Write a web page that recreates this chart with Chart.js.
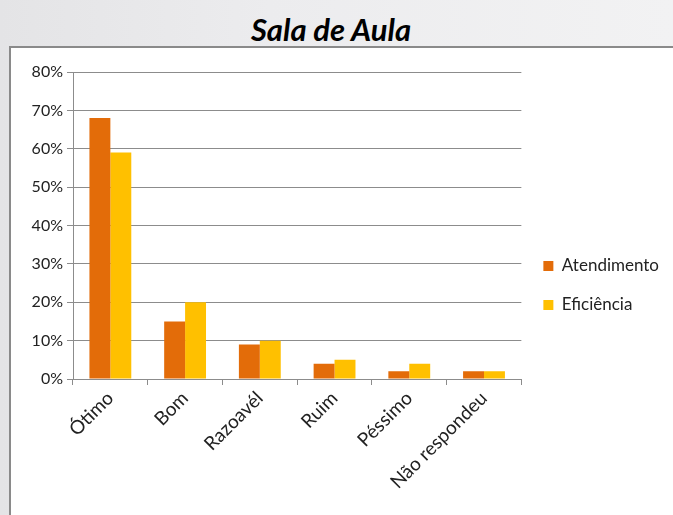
<!DOCTYPE html>
<html>
<head>
<meta charset="utf-8">
<script src="https://cdn.jsdelivr.net/npm/chart.js@4"></script>
<style>
    html, body { margin: 0; padding: 0; }
    body {
        width: 673px; height: 515px; overflow: hidden; position: relative;
        background: linear-gradient(90deg, #e4e4e6 0%, #ececee 40%, #f2f2f3 100%);
        font-family: Lato, "Open Sans", sans-serif;
    }
    #title {
        position: absolute; left: 0; top: 10px; width: 662px; text-align: center;
        font: italic bold 31px Lato, sans-serif; color: #000;
    }
    #box {
        position: absolute; left: 9px; top: 46px; width: 664px; height: 469px;
        background: #fff; border-left: 2px solid #8a8a8a; border-top: 2px solid #8a8a8a;
    }
</style>
</head>
<body>
<div id="title">Sala de Aula</div>
<div id="box"><canvas id="chart" width="662" height="467"></canvas></div>
<script>
// data
const categories = ['Ótimo', 'Bom', 'Razoavél', 'Ruim', 'Péssimo', 'Não respondeu'];
const atendimento = [68, 15, 9, 4, 2, 2];
const eficiencia = [59, 20, 10, 5, 4, 2];
const yTicks = [0, 10, 20, 30, 40, 50, 60, 70, 80];

const gridColor = '#8c8c8c';

const ctx = document.getElementById('chart');
const myChart = new Chart(ctx, {
    type: 'bar',
    data: {
        labels: categories,
        datasets: [{
            label: 'Atendimento',
            data: atendimento,
            backgroundColor: '#E36C09'
        }, {
            label: 'Eficiência',
            data: eficiencia,
            backgroundColor: '#FFC000'
        }]
    },
    options: {
        responsive: false,
        animation: false,
        categoryPercentage: 0.56,
        barPercentage: 1,
        layout: {
            // extra bottom padding lifts the legend a little
            padding: { top: 24, left: 4, right: 4, bottom: 16 }
        },
        plugins: {
            tooltip: { enabled: false },
            legend: {
                position: 'right',
                labels: {
                    boxWidth: 10,
                    boxHeight: 10,
                    padding: 22,
                    color: '#222',
                    font: { family: 'Lato', size: 17 }
                }
            }
        },
        scales: {
            x: {
                afterFit: function (scale) { scale.height = 120; },
                grid: {
                    offset: true,
                    drawOnChartArea: false,
                    drawTicks: true,
                    tickLength: 6,
                    color: gridColor
                },
                border: { color: gridColor },
                ticks: {
                    minRotation: 45,
                    maxRotation: 45,
                    padding: 2,
                    color: '#222',
                    font: { family: 'Lato', size: 19 }
                }
            },
            y: {
                min: 0,
                max: 80,
                afterFit: function (scale) { scale.width = 58; },
                afterBuildTicks: function (scale) {
                    scale.ticks = yTicks.map(v => ({ value: v }));
                },
                grid: {
                    color: gridColor,
                    tickLength: 6
                },
                border: { color: gridColor },
                ticks: {
                    padding: 4,
                    color: '#222',
                    font: { family: 'Lato', size: 16 },
                    callback: v => v + '%'
                }
            }
        }
    }
});
</script>
</body>
</html>
